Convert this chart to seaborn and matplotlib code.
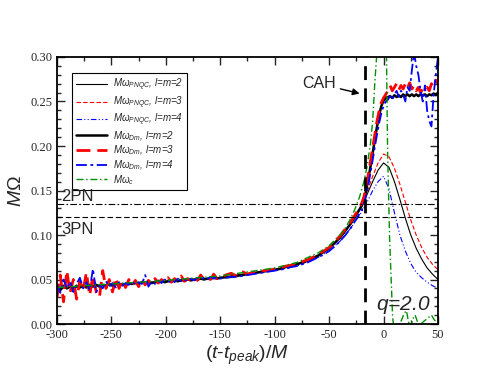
import numpy as np
import matplotlib
matplotlib.use("Agg")
import matplotlib.pyplot as plt
from matplotlib.ticker import MultipleLocator
import seaborn as sns

# ---------------- data ----------------
t_dm = [-300, -297, -294, -291, -288, -285, -282, -279, -276, -273, -270, -267, -264, -261, -258,
        -255, -252, -249, -246, -243, -240, -237, -234, -231, -228, -225, -222, -219, -216, -213,
        -210, -207, -204, -201, -198, -195, -192, -189, -186, -183, -180, -177, -174, -171, -168,
        -165, -162, -159, -156, -153, -150,
        -145, -140, -135, -130, -125, -120, -115, -110, -105, -100, -95, -90, -85, -80, -75, -70,
        -65, -60, -55, -50, -45, -40, -35, -30,
        -28, -26, -24, -22, -20, -18, -16, -14, -12, -10, -8, -6, -4, -2, 0, 2, 4, 6, 8, 10,
        12, 14, 16, 18, 20, 22, 24, 26, 28, 30, 32, 34, 36, 38, 40, 42, 44, 46, 48, 50]

dm_l2 = [0.041, 0.038, 0.043, 0.040, 0.042, 0.039, 0.043, 0.041, 0.043, 0.041, 0.044, 0.042, 0.044, 0.042, 0.044,
         0.043, 0.045, 0.043, 0.045, 0.044, 0.045, 0.044, 0.046, 0.045, 0.046, 0.045, 0.047, 0.046, 0.047, 0.046,
         0.047, 0.047, 0.048, 0.047, 0.048, 0.048, 0.049, 0.048, 0.049, 0.049, 0.050, 0.049, 0.050, 0.050, 0.051,
         0.050, 0.051, 0.051, 0.052, 0.051, 0.052,
         0.0525, 0.053, 0.054, 0.055, 0.056, 0.057, 0.058, 0.059, 0.060, 0.061, 0.062, 0.064, 0.065, 0.067, 0.069, 0.071,
         0.074, 0.077, 0.081, 0.085, 0.091, 0.097, 0.105, 0.113,
         0.117, 0.121, 0.125, 0.129, 0.133, 0.139, 0.150, 0.163, 0.177, 0.192, 0.207, 0.222, 0.235, 0.245, 0.251,
         0.254, 0.255, 0.256, 0.254, 0.257,
         0.255, 0.257, 0.255, 0.258, 0.256, 0.258, 0.256, 0.258, 0.256, 0.258, 0.256, 0.258, 0.257, 0.258, 0.256,
         0.258, 0.257, 0.259, 0.257, 0.260]

dm_l3 = [0.030, 0.055, 0.025, 0.060, 0.035, 0.050, 0.028, 0.048, 0.038, 0.058, 0.032, 0.054, 0.036, 0.030, 0.060,
         0.040, 0.050, 0.036, 0.052, 0.040, 0.049, 0.041, 0.050, 0.043, 0.049, 0.042, 0.050, 0.044, 0.049, 0.045,
         0.051, 0.046, 0.050, 0.047, 0.052, 0.047, 0.051, 0.048, 0.054, 0.048, 0.051, 0.049, 0.053, 0.049, 0.055,
         0.050, 0.052, 0.050, 0.056, 0.051, 0.053,
         0.055, 0.057, 0.054, 0.059, 0.056, 0.058, 0.057, 0.060, 0.060, 0.062, 0.063, 0.065, 0.066, 0.068, 0.070, 0.072,
         0.075, 0.078, 0.082, 0.086, 0.092, 0.099, 0.107, 0.115,
         0.119, 0.123, 0.127, 0.131, 0.136, 0.143, 0.155, 0.168, 0.183, 0.198, 0.213, 0.228, 0.240, 0.249, 0.254,
         0.258, 0.262, 0.268, 0.262, 0.266,
         0.270, 0.263, 0.268, 0.264, 0.270, 0.265, 0.271, 0.264, 0.268, 0.262, 0.266, 0.260, 0.264, 0.262, 0.266,
         0.262, 0.270, 0.266, 0.274, 0.270]

dm_l4 = [0.045, 0.035, 0.050, 0.040, 0.048, 0.036, 0.045, 0.052, 0.040, 0.047, 0.038, 0.062, 0.036, 0.044, 0.040,
         0.048, 0.042, 0.046, 0.041, 0.047, 0.043, 0.046, 0.044, 0.048, 0.044, 0.047, 0.045, 0.055, 0.042, 0.048,
         0.045, 0.049, 0.046, 0.050, 0.047, 0.050, 0.047, 0.051, 0.048, 0.050, 0.048, 0.051, 0.049, 0.052, 0.050,
         0.052, 0.050, 0.053, 0.051, 0.053, 0.051,
         0.052, 0.053, 0.053, 0.054, 0.055, 0.056, 0.057, 0.058, 0.059, 0.060, 0.061, 0.062, 0.064, 0.065, 0.067, 0.069,
         0.072, 0.075, 0.078, 0.082, 0.087, 0.093, 0.100, 0.108,
         0.112, 0.116, 0.120, 0.124, 0.128, 0.134, 0.144, 0.156, 0.170, 0.184, 0.199, 0.213, 0.226, 0.237, 0.245,
         0.250, 0.252, 0.256, 0.252, 0.258,
         0.262, 0.255, 0.262, 0.258, 0.250, 0.266, 0.262, 0.285, 0.305, 0.290, 0.280, 0.262, 0.250, 0.268, 0.240,
         0.228, 0.222, 0.258, 0.280, 0.300]

t_pn = [-300, -250, -200, -150, -100, -80, -60, -50, -40, -30, -25, -20, -15, -10, -5, 0,
        5, 10, 15, 20, 25, 30, 35, 40, 45, 50]
pn_l2 = [0.040, 0.044, 0.048, 0.052, 0.061, 0.067, 0.077, 0.085, 0.097, 0.113, 0.122, 0.132, 0.146, 0.160, 0.173, 0.181,
         0.176, 0.160, 0.140, 0.119, 0.100, 0.085, 0.073, 0.063, 0.056, 0.050]
pn_l3 = [0.040, 0.044, 0.048, 0.052, 0.061, 0.067, 0.077, 0.085, 0.097, 0.113, 0.123, 0.133, 0.149, 0.166, 0.181, 0.191,
         0.188, 0.175, 0.157, 0.137, 0.117, 0.100, 0.086, 0.075, 0.067, 0.061]
pn_l4 = [0.040, 0.044, 0.048, 0.052, 0.060, 0.065, 0.075, 0.082, 0.093, 0.108, 0.117, 0.126, 0.137, 0.150, 0.160, 0.166,
         0.152, 0.125, 0.100, 0.082, 0.068, 0.058, 0.052, 0.047, 0.043, 0.040]

t_c = [-300, -250, -200, -150, -100, -80, -60, -50, -40, -35, -30, -26, -22, -18, -15, -12, -10, -8, -6.4, -5,
       2, 2.75, 3.7, 5.5, 8.3, 10, 13, 16, 19, 21, 23, 25, 27, 29, 31, 33, 36, 40, 44, 47, 50]
w_c = [0.041, 0.045, 0.049, 0.054, 0.063, 0.069, 0.080, 0.088, 0.100, 0.108, 0.119, 0.130, 0.143, 0.160, 0.178, 0.203,
       0.228, 0.272, 0.300, 0.400,
       0.400, 0.297, 0.195, 0.098, 0.008, -0.010, -0.005, 0.003, 0.012, 0.015, 0.002, -0.003, 0.006, 0.010, 0.003,
       -0.002, 0.002, 0.006, 0.010, 0.004, 0.003]

pn2_level = 0.135
pn3_level = 0.120
cah_time = -17.5

# ---------------- style ----------------
sns.set_style("ticks")
plt.rcParams['font.family'] = ['Liberation Sans', 'DejaVu Sans']
plt.rcParams['mathtext.fontset'] = 'custom'
plt.rcParams['mathtext.it'] = 'Liberation Sans:italic'
plt.rcParams['mathtext.rm'] = 'Liberation Sans'
plt.rcParams['mathtext.sf'] = 'Liberation Sans'

fig = plt.figure(figsize=(4.94, 3.82), dpi=100)
ax = fig.add_axes([0.1154, 0.1518, 0.7712, 0.6990])

RED = "#ff0000"
BLUE = "#0000ff"
GREEN = "#009000"

sns.lineplot(x=t_pn, y=pn_l2, ax=ax, color="black", lw=0.8, sort=False, estimator=None,
             label=r"$M\omega_{PNQC}$, l=m=2")
sns.lineplot(x=t_pn, y=pn_l3, ax=ax, color=RED, lw=0.8, linestyle=(0, (4, 2)), sort=False, estimator=None,
             label=r"$M\omega_{PNQC}$, l=m=3")
sns.lineplot(x=t_pn, y=pn_l4, ax=ax, color=BLUE, lw=0.8, linestyle=(0, (5, 2, 1, 2, 1, 2)), sort=False,
             estimator=None, label=r"$M\omega_{PNQC}$, l=m=4")
sns.lineplot(x=t_dm, y=dm_l2, ax=ax, color="black", lw=1.8, sort=False, estimator=None,
             label=r"$M\omega_{Dm}$, l=m=2")
sns.lineplot(x=t_dm, y=dm_l3, ax=ax, color=RED, lw=2.0, linestyle=(0, (5, 2.5)), sort=False, estimator=None,
             label=r"$M\omega_{Dm}$, l=m=3")
sns.lineplot(x=t_dm, y=dm_l4, ax=ax, color=BLUE, lw=1.3, linestyle=(0, (6, 2, 1.5, 2)), sort=False,
             estimator=None, label=r"$M\omega_{Dm}$, l=m=4")
sns.lineplot(x=t_c, y=w_c, ax=ax, color=GREEN, lw=1.0, linestyle=(0, (5, 2, 1, 2)), sort=False,
             estimator=None, label=r"$M\omega_{c}$")

ax.axhline(pn2_level, color="black", lw=0.8, linestyle=(0, (6, 2, 1.5, 2)))
ax.axhline(pn3_level, color="black", lw=0.8, linestyle=(0, (5, 2.5)))
ax.axvline(cah_time, color="black", lw=2.0, linestyle=(0, (5, 3)))

ax.set_xlim(-300, 50)
ax.set_ylim(0.0, 0.30)
ax.xaxis.set_major_locator(MultipleLocator(50))
ax.xaxis.set_minor_locator(MultipleLocator(25))
ax.yaxis.set_major_locator(MultipleLocator(0.05))
ax.yaxis.set_minor_locator(MultipleLocator(0.01))
ax.tick_params(which='both', direction='in', top=True, right=True, width=1.0)
ax.tick_params(which='major', length=6)
ax.tick_params(which='minor', length=3)
for sp in ax.spines.values():
    sp.set_linewidth(1.3)
    sp.set_color("black")

ax.set_xticklabels([f"{int(v)}" for v in ax.get_xticks()], family='Liberation Serif', fontsize=9)
ax.set_yticklabels([f"{v:.2f}" for v in ax.get_yticks()], family='Liberation Serif', fontsize=9)
ax.set_xlim(-300, 50)
ax.set_ylim(0.0, 0.30)

ax.set_xlabel(r"$(t$-$t_{peak})/M$", fontsize=14, labelpad=2)
ax.set_ylabel(r"$M\Omega$", fontsize=14, labelpad=4)

leg = ax.legend(loc="upper left", bbox_to_anchor=(0.027, 0.958), frameon=True, fancybox=False,
                prop={'family': 'Liberation Sans', 'style': 'italic', 'size': 7},
                handlelength=3.2, labelspacing=0.1, borderpad=0.4, handletextpad=0.6)
leg.get_frame().set_edgecolor("black")
leg.get_frame().set_linewidth(0.8)
leg.get_frame().set_alpha(1.0)

ax.text(-296, 0.143, "2PN", fontsize=12, va='center', ha='left', zorder=10)
ax.text(-296, 0.106, "3PN", fontsize=12, va='center', ha='left', zorder=10)
ax.annotate("CAH", xy=(-22, 0.259), xytext=(-44, 0.270), fontsize=11.5, va='center', ha='right',
            arrowprops=dict(arrowstyle="-|>", color="black", lw=1.0, shrinkA=1, shrinkB=0,
                            mutation_scale=10))
ax.text(43, 0.021, r"$q$=2.0", fontsize=15, va='center', ha='right', style='italic')

fig.savefig("out.png", dpi=100)
